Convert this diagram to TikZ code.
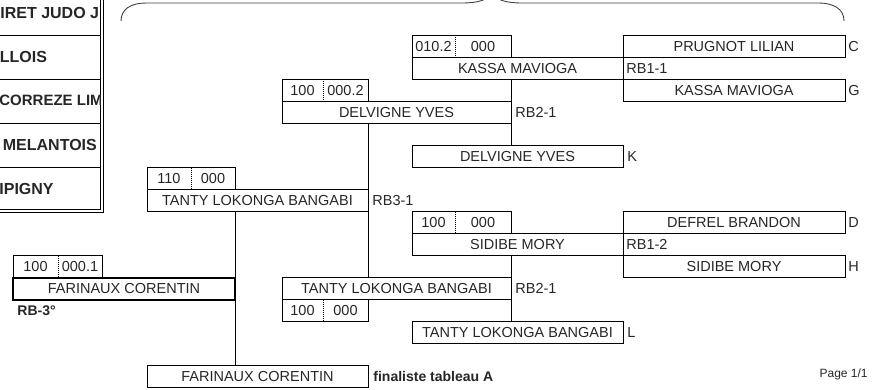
\documentclass[tikz,border=0pt]{standalone}
\usepackage{fontspec}
\setmainfont{Liberation Sans}
\usetikzlibrary{positioning}
\tikzset{
  box/.style={draw, line width=0.8pt, inner sep=0pt, outer sep=0pt, minimum height=22pt,
    anchor=north west, font=\fontsize{14.5}{16}\selectfont, text=black!85},
  score/.style={inner sep=0pt, outer sep=0pt, minimum height=22pt,
    font=\fontsize{14.5}{16}\selectfont, text=black!85},
  lbl/.style={inner sep=0pt, font=\fontsize{14.5}{16}\selectfont, text=black!85},
  club/.style={inner sep=0pt, anchor=west, font=\bfseries\fontsize{16}{18}\selectfont, text=black!85},
  divider/.style={line width=0.8pt, dash pattern=on 1pt off 1pt},
}
\begin{document}
\begin{tikzpicture}[x=1pt, y=-1pt, line width=0.8pt]
    \useasboundingbox (0,0) rectangle (874,390);

    \draw[line width=0.9pt, black!75] (121,21) .. controls (121,9) and (131,3) .. (146,3) -- (462,3)
      .. controls (478,3) and (489,0) .. (492,-8) .. controls (495,0) and (506,3) .. (522,3) -- (818,3)
      .. controls (834,3) and (844,9) .. (844,21);

    \foreach \y in {35.5,79.5,123.5,167.5}
      \draw (-2,\y) -- (100.5,\y);
    \draw (100.5,-2) -- (100.5,209) -- (-2,209);
    \draw (103,-2) -- (103,212) -- (-2,212);
    \begin{scope}
      \clip (0,-2) rectangle (100,209);
      \node[club] (club1) at (0,12.5) {IRET JUDO J};
      \node[club] (club2) at (-0.5,56.7) {LLOIS};
      \node[club, font=\bfseries\fontsize{15}{18}\selectfont] (club3) at (-1,100.8) {CORREZE LIM};
      \node[club] (club4) at (2.5,144.5) {MELANTOIS};
      \node[club] (club5) at (-1,188.5) {IPIGNY};
    \end{scope}

    \node[score, anchor=north west, minimum width=43pt] (s11a) at (412,35.5) {010.2};
    \node[score, minimum width=56pt, right=0pt of s11a] (s11b) {000};
    \node[box, minimum width=211pt] (w11) at (412,57.5) {KASSA MAVIOGA};
    \node[box, minimum width=222pt] (c1) at (623,35.5) {PRUGNOT LILIAN};
    \node[box, minimum width=222pt] (g1) at (623,79.5) {KASSA MAVIOGA};

    \node[score, anchor=north west, minimum width=41pt] (s21a) at (282,79.5) {100};
    \node[score, minimum width=45pt, right=0pt of s21a] (s21b) {000.2};
    \node[box, minimum width=229pt] (w21) at (282,101.5) {DELVIGNE YVES};
    \node[box, minimum width=211pt] (k1) at (412,145.5) {DELVIGNE YVES};

    \node[score, anchor=north west, minimum width=44pt] (s31a) at (147,167.5) {110};
    \node[score, minimum width=44pt, right=0pt of s31a] (s31b) {000};
    \node[box, minimum width=221pt] (w31) at (147,189.5) {TANTY LOKONGA BANGABI};

    \node[score, anchor=north west, minimum width=43pt] (s12a) at (412,211.5) {100};
    \node[score, minimum width=56pt, right=0pt of s12a] (s12b) {000};
    \node[box, minimum width=211pt] (w12) at (412,233.5) {SIDIBE MORY};
    \node[box, minimum width=222pt] (d1) at (623,211.5) {DEFREL BRANDON};
    \node[box, minimum width=222pt] (h1) at (623,255.5) {SIDIBE MORY};

    \node[box, minimum width=229pt] (w22) at (282,277.5) {TANTY LOKONGA BANGABI};
    \node[score, anchor=north west, minimum width=41pt] (s22a) at (282,299.5) {100};
    \node[score, minimum width=45pt, right=0pt of s22a] (s22b) {000};
    \node[box, minimum width=211pt] (l1) at (412,321.5) {TANTY LOKONGA BANGABI};

    \node[score, anchor=north west, minimum width=45pt] (s3a) at (13,255.5) {100};
    \node[score, minimum width=44pt, right=0pt of s3a] (s3b) {000.1};
    \node[box, line width=2pt, minimum width=222pt] (w3) at (13,277.5) {FARINAUX CORENTIN};
    \node[box, minimum width=221pt] (fin) at (147,365.5) {FARINAUX CORENTIN};

    \foreach \a/\b in {s11a/s11b, s21a/s21b, s31a/s31b, s12a/s12b, s22a/s22b, s3a/s3b} {
      \draw (\a.north west) rectangle (\b.south east);
      \draw[divider] (\a.north east) -- (\a.south east);
    }

    \node[lbl, right=3pt of w11] (rb11) {RB1-1};
    \node[lbl, right=3pt of c1] (lc) {C};
    \node[lbl, right=3pt of g1] (lg) {G};
    \node[lbl, right=4pt of w21] (rb21) {RB2-1};
    \node[lbl, right=4pt of k1] (lk) {K};
    \node[lbl, right=4pt of w31] (rb31) {RB3-1};
    \node[lbl, right=3pt of w12] (rb12) {RB1-2};
    \node[lbl, right=3pt of d1] (ld) {D};
    \node[lbl, right=3pt of h1] (lh) {H};
    \node[lbl, right=4pt of w22] (rb22) {RB2-1};
    \node[lbl, right=4pt of l1] (ll) {L};
    \node[lbl, font=\bfseries\fontsize{14}{16}\selectfont, below right=6pt and 4pt of w3.south west] (rb3) {RB-3°};
    \node[lbl, font=\bfseries\fontsize{14}{16}\selectfont, right=5pt of fin] (finlbl) {finaliste tableau A};
    \node[lbl, font=\fontsize{12}{14}\selectfont, anchor=base east] (page) at (868,377) {Page 1/1};

    \draw (w21.east |- w11.south) -- (w21.east |- k1.north);
    \draw (w31.east |- w21.south) -- (w31.east |- w22.north);
    \draw (w22.east |- w12.south) -- (w22.east |- l1.north);
    \draw (s31b.east |- w31.south) -- (s31b.east |- fin.north);
  \end{tikzpicture}
\end{document}
